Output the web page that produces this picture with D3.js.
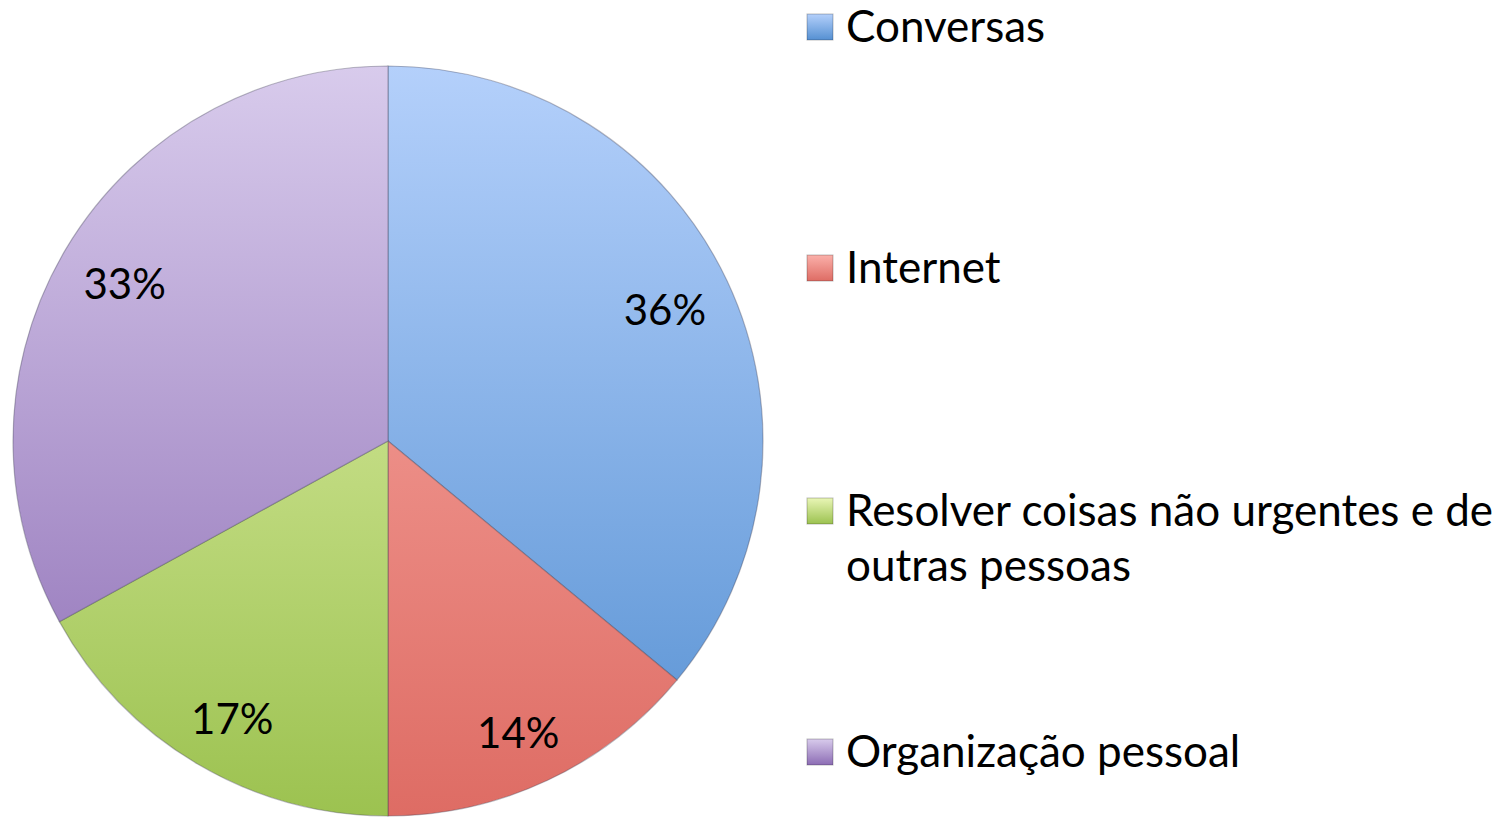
<!DOCTYPE html>
<html>
<head>
<meta charset="utf-8">
<script src="https://cdn.jsdelivr.net/npm/d3@7"></script>
<style>
  body { margin: 0; background: #fff; }
  svg { display: block; }
</style>
</head>
<body>
<div id="chart"></div>
<script>
// chart data
const categories = ["Conversas", "Internet", "Resolver coisas não urgentes e de outras pessoas", "Organização pessoal"];
const legendLines = [["Conversas"], ["Internet"], ["Resolver coisas não urgentes e de", "outras pessoas"], ["Organização pessoal"]];
const values = [36, 14, 17, 33];
const topColors = ["#b4d0fb", "#fbb0aa", "#e9f6b6", "#d8cbec"];
const bottomColors = ["#5590d2", "#de6c64", "#9cc250", "#8c6cb4"];

const width = 1512, height = 817;
const cx = 388, cy = 441, radius = 375;

const svg = d3.select("#chart")
    .append("svg")
    .attr("width", width)
    .attr("height", height);

// vertical gradients per slice (in the pie group's coordinates)
const defs = svg.append("defs");
categories.forEach((c, i) => {
    const g = defs.append("linearGradient")
        .attr("id", "grad" + i)
        .attr("gradientUnits", "userSpaceOnUse")
        .attr("x1", 0).attr("y1", -radius)
        .attr("x2", 0).attr("y2", radius);
    g.append("stop").attr("offset", "0%").attr("stop-color", topColors[i]);
    g.append("stop").attr("offset", "100%").attr("stop-color", bottomColors[i]);
});

const pie = d3.pie().sort(null).value(d => d);
const arcs = pie(values);

const arc = d3.arc().innerRadius(0).outerRadius(radius);
const labelArcX = d3.arc().innerRadius(306).outerRadius(306);
const labelArcY = d3.arc().innerRadius(318).outerRadius(318);

// slices
const chart = svg.append("g")
    .attr("transform", `translate(${cx}, ${cy})`);

chart.selectAll("path.slice")
    .data(arcs)
    .enter()
    .append("path")
    .attr("class", "slice")
    .attr("d", arc)
    .attr("fill", (d, i) => `url(#grad${i})`)
    .attr("stroke", "rgba(60,60,80,0.35)")
    .attr("stroke-width", 1.2);

// percentage labels
chart.selectAll("text.pct")
    .data(arcs)
    .enter()
    .append("text")
    .attr("class", "pct")
    .attr("x", d => labelArcX.centroid(d)[0])
    .attr("y", d => labelArcY.centroid(d)[1] + 5)
    .attr("text-anchor", "middle")
    .attr("dy", "0.35em")
    .style("font-family", "Lato, 'Open Sans', sans-serif")
    .style("font-size", "42px")
    .style("fill", "#000")
    .text(d => d.value + "%");

// legend
const legendY = [27, 268, 511, 752];
const legend = svg.append("g");
legendLines.forEach((lines, i) => {
    const lg = defs.append("linearGradient")
        .attr("id", "lg" + i)
        .attr("x1", 0).attr("y1", 0).attr("x2", 0).attr("y2", 1);
    lg.append("stop").attr("offset", "0%").attr("stop-color", topColors[i]);
    lg.append("stop").attr("offset", "100%").attr("stop-color", bottomColors[i]);

    const g = legend.append("g")
        .attr("transform", `translate(807, ${legendY[i]})`);
    g.append("rect")
        .attr("x", 0).attr("y", -13)
        .attr("width", 26).attr("height", 26)
        .attr("fill", `url(#lg${i})`)
        .attr("stroke", "rgba(0,0,0,0.25)")
        .attr("stroke-width", 1);
    lines.forEach((t, j) => {
        g.append("text")
            .attr("x", 39)
            .attr("y", 15 + j * 55)
            .style("font-family", "Lato, 'Open Sans', sans-serif")
            .style("font-size", "44px")
            .style("fill", "#000")
            .text(t);
    });
});
</script>
</body>
</html>
